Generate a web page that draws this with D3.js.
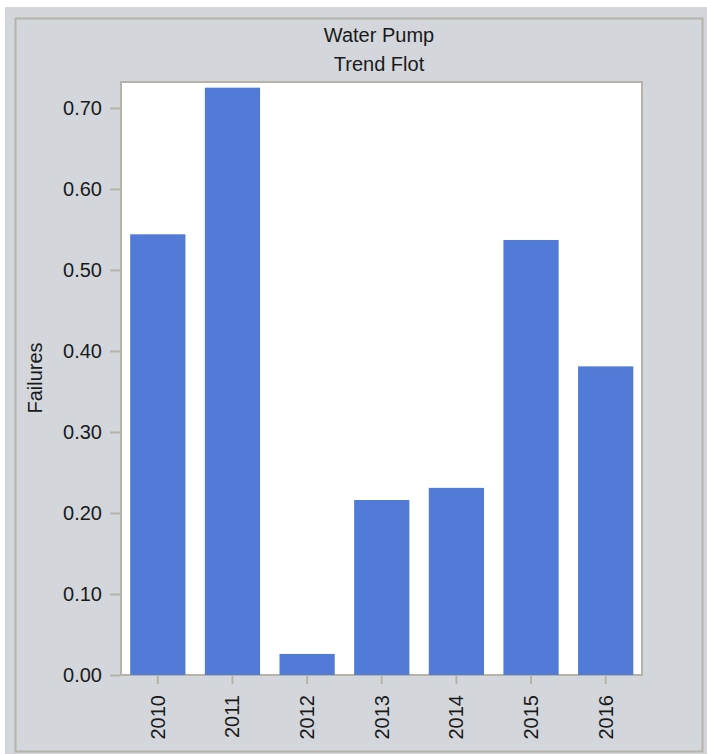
<!DOCTYPE html>
<html><head><meta charset="utf-8">
<script src="https://cdn.jsdelivr.net/npm/d3@7"></script>
<style>html,body{margin:0;padding:0;background:#fff;}svg{display:block;}</style>
</head><body>
<script>
const categories = ["2010","2011","2012","2013","2014","2015","2016"];
const failures = [0.544, 0.725, 0.026, 0.216, 0.231, 0.537, 0.381];
const yTicks = [0, 0.1, 0.2, 0.3, 0.4, 0.5, 0.6, 0.7];
const titleLines = ["Water Pump", "Trend Flot"];
const yLabel = "Failures";

const W = 707, H = 754;
const font = "'Liberation Sans', Arial, sans-serif";
const svg = d3.select("body").append("svg").attr("width", W).attr("height", H);

svg.append("rect").attr("x", 5).attr("y", 7).attr("width", W - 5).attr("height", H - 7).attr("fill", "#d3d6da");
svg.append("rect").attr("x", 15.5).attr("y", 18.5).attr("width", 687).attr("height", 733)
  .attr("fill", "none").attr("stroke", "#b6b4a8").attr("stroke-width", 2);

const plot = {left: 121, right: 642, top: 82, bottom: 675};
const x = d3.scaleBand().domain(categories).range([120.5, 643]).paddingInner(0.26).paddingOuter(0.13);
const y = d3.scaleLinear().domain([0, 0.732]).range([plot.bottom, plot.top]);

svg.append("rect").attr("x", plot.left).attr("y", plot.top)
  .attr("width", plot.right - plot.left).attr("height", plot.bottom - plot.top)
  .attr("fill", "#fff").attr("stroke", "#b6b4a8").attr("stroke-width", 2);

svg.append("g").selectAll("rect").data(categories).join("rect")
  .attr("x", d => x(d)).attr("width", x.bandwidth())
  .attr("y", (d, i) => y(failures[i])).attr("height", (d, i) => y(0) - y(failures[i]))
  .attr("fill", "#517bd7");

const yAxis = svg.append("g").attr("transform", `translate(${plot.left - 1},0)`)
  .call(d3.axisLeft(y).tickValues(yTicks).tickFormat(d3.format(".2f")).tickSize(10).tickPadding(8));
yAxis.select(".domain").remove();
yAxis.selectAll(".tick line").attr("stroke", "#b6b4a8").attr("stroke-width", 2);
yAxis.selectAll(".tick text").attr("font-family", font).attr("font-size", 20).attr("fill", "#1a1a1a");

const xAxis = svg.append("g").attr("transform", `translate(0,${plot.bottom + 1})`)
  .call(d3.axisBottom(x).tickSize(8).tickPadding(8));
xAxis.select(".domain").remove();
xAxis.selectAll(".tick line").attr("stroke", "#b6b4a8").attr("stroke-width", 2);
xAxis.selectAll(".tick text").attr("font-family", font).attr("font-size", 20).attr("fill", "#1a1a1a")
  .attr("transform", "rotate(-90)").attr("text-anchor", "end").attr("dy", "0.35em").attr("x", -19).attr("y", 0);

svg.append("g").selectAll("text").data(titleLines).join("text")
  .attr("x", 379).attr("y", (d, i) => 42 + i * 29).attr("text-anchor", "middle")
  .attr("font-family", font).attr("font-size", 20).attr("fill", "#1a1a1a").text(d => d);

svg.append("text").attr("transform", "translate(42,378) rotate(-90)").attr("text-anchor", "middle")
  .attr("font-family", font).attr("font-size", 20).attr("fill", "#1a1a1a").text(yLabel);
</script>
</body></html>
